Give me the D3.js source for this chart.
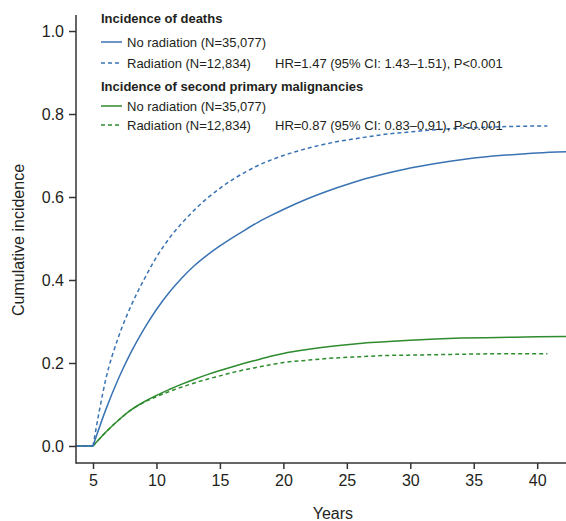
<!DOCTYPE html>
<html><head><meta charset="utf-8">
<script src="https://cdn.jsdelivr.net/npm/d3@7"></script>
<style>body{margin:0;background:#fff}svg{display:block}text{font-family:"Liberation Sans",Arial,Helvetica,sans-serif;fill:#231f20}</style>
</head><body><svg id="c" width="566" height="521"></svg>
<script>
// Data
const xTicks = [5,10,15,20,25,30,35,40];
const yTicks = [0,0.2,0.4,0.6,0.8,1.0];

const yearsDeathRad = [3.66,5,5.5,6,7,8,9,10,11,12,13,14,15,16,17,18,19,20,22,24,26,28,30,32,34,36,38,40,40.8];
const deathRad      = [0,0,0.085,0.16,0.262,0.338,0.40,0.455,0.5,0.537,0.569,0.597,0.621,0.642,0.66,0.676,0.689,0.70,0.718,0.732,0.742,0.751,0.757,0.762,0.766,0.768,0.77,0.771,0.771];

const yearsDeathNo = [3.66,5,6,7,8,9,10,11,12,13,14,15,16,17,18,19,20,22,24,26,28,30,32,34,36,38,40,42.5];
const deathNo      = [0,0,0.087,0.162,0.226,0.281,0.329,0.37,0.405,0.435,0.46,0.482,0.502,0.521,0.539,0.555,0.57,0.597,0.62,0.64,0.656,0.67,0.681,0.69,0.697,0.702,0.706,0.709];

const yearsSpmNo = [3.66,5,6,7,8,9,10,11,12,13,14,15,16,17,18,19,20,22,24,26,28,30,32,34,36,38,40,42.5];
const spmNo      = [0,0,0.033,0.062,0.087,0.106,0.122,0.136,0.149,0.161,0.172,0.182,0.191,0.2,0.208,0.216,0.223,0.233,0.241,0.247,0.251,0.255,0.258,0.26,0.261,0.262,0.263,0.264];

const yearsSpmRad = [3.66,5,6,7,8,9,10,11,12,13,14,15,16,17,18,19,20,22,24,26,28,30,32,34,36,38,40,40.8];
const spmRad      = [0,0,0.033,0.062,0.087,0.105,0.119,0.131,0.142,0.152,0.161,0.169,0.177,0.184,0.19,0.196,0.201,0.207,0.212,0.215,0.218,0.219,0.22,0.221,0.222,0.222,0.222,0.222];

const BLUE = "#3a73b3", GREEN = "#2e8b2e";

const svg = d3.select("#c");
const x = d3.scaleLinear().domain([3.66, 42.27]).range([76, 566]);
const y = d3.scaleLinear().domain([-0.041, 1.0386]).range([463, 15]);

svg.append("defs").append("clipPath").attr("id","clip")
  .append("rect").attr("x",76).attr("y",10).attr("width",490).attr("height",453);

const flat = d3.line().x(d=>x(d[0])).y(d=>y(d[1]));
const smooth = d3.line().x(d=>x(d[0])).y(d=>y(d[1])).curve(d3.curveMonotoneX);
const series = [
  {yr: yearsSpmRad, v: spmRad, c: GREEN, dash: "4,3"},
  {yr: yearsSpmNo, v: spmNo, c: GREEN, dash: null},
  {yr: yearsDeathRad, v: deathRad, c: BLUE, dash: "4,3"},
  {yr: yearsDeathNo, v: deathNo, c: BLUE, dash: null},
];
const g = svg.append("g").attr("clip-path","url(#clip)");
series.forEach(s=>{
  const pts = s.yr.map((t,i)=>[t,s.v[i]]);
  const d = flat(pts.slice(0,2)) + smooth(pts.slice(1));
  g.append("path").attr("d", d).attr("fill","none").attr("stroke", s.c)
    .attr("stroke-width", 1.5).attr("stroke-dasharray", s.dash);
});

// Axes
const xa = svg.append("g").attr("transform","translate(0,463)")
  .call(d3.axisBottom(x).tickValues(xTicks).tickSize(6).tickPadding(6).tickFormat(d3.format("d")));
const ya = svg.append("g").attr("transform","translate(76,0)")
  .call(d3.axisLeft(y).tickValues(yTicks).tickSize(7).tickPadding(5).tickFormat(d3.format(".1f")));
[xa, ya].forEach(a=>{
  a.select(".domain").remove();
  a.selectAll(".tick line").attr("stroke","#333").attr("stroke-width",1.5);
  a.selectAll(".tick text").style("font-size","16px").style("fill","#231f20");
});
svg.append("line").attr("x1",76).attr("x2",76).attr("y1",15).attr("y2",463.75).attr("stroke","#333").attr("stroke-width",1.5);
svg.append("line").attr("x1",76).attr("x2",566).attr("y1",463).attr("y2",463).attr("stroke","#333").attr("stroke-width",1.5);

svg.append("text").attr("x", x(23.9)).attr("y", 519).attr("text-anchor","middle").style("font-size","16px").text("Years");
svg.append("text").attr("transform","translate(24,240) rotate(-90)").attr("text-anchor","middle").style("font-size","16px").text("Cumulative incidence");

// Legend
const lg = svg.append("g");
const items = [
  {t:"Incidence of deaths", bold:true, y:23},
  {t:"No radiation (N=35,077)", c:BLUE, dash:null, y:47},
  {t:"Radiation (N=12,834)", c:BLUE, dash:"4,3", y:68, hr:"HR=1.47 (95% CI: 1.43\u20131.51), P<0.001"},
  {t:"Incidence of second primary malignancies", bold:true, y:91},
  {t:"No radiation (N=35,077)", c:GREEN, dash:null, y:111},
  {t:"Radiation (N=12,834)", c:GREEN, dash:"4,3", y:130, hr:"HR=0.87 (95% CI: 0.83\u20130.91), P<0.001"},
];
items.forEach(it=>{
  if (it.bold) {
    lg.append("text").attr("x",101).attr("y",it.y).style("font-size","13px").style("font-weight","bold").text(it.t);
  } else {
    lg.append("line").attr("x1",101).attr("x2",122).attr("y1",it.y-5).attr("y2",it.y-5)
      .attr("stroke",it.c).attr("stroke-width",1.5).attr("stroke-dasharray",it.dash);
    lg.append("text").attr("x",127).attr("y",it.y).style("font-size","13px").text(it.t);
    if (it.hr) lg.append("text").attr("x",275).attr("y",it.y).style("font-size","13px").text(it.hr);
  }
});
</script></body></html>
